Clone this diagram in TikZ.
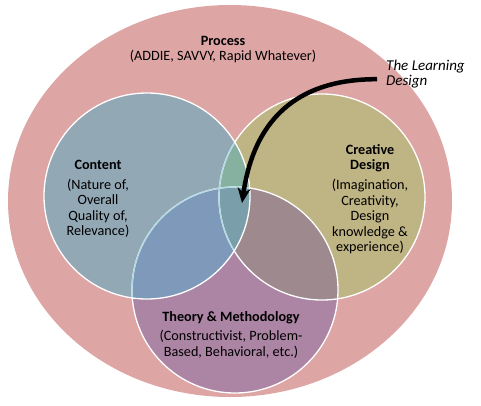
\documentclass[tikz,border=0pt]{standalone}
\usepackage{fontspec}
\setmainfont{Carlito}
\usetikzlibrary{arrows.meta,positioning}
\definecolor{procpink}{RGB}{222,165,165}
\definecolor{contfill}{RGB}{147,168,181}
\definecolor{creafill}{RGB}{191,180,132}
\definecolor{theofill}{RGB}{172,133,164}
\definecolor{ccmix}{RGB}{134,176,160}
\definecolor{ctmix}{RGB}{126,153,186}
\definecolor{rtmix}{RGB}{158,138,142}
\definecolor{allmix}{RGB}{122,159,170}
\definecolor{edgecyan}{RGB}{178,218,228}

\begin{document}
\begin{tikzpicture}[x=1pt, y=-1pt, >=Stealth,
  venn/.style={circle, minimum size=206pt, inner sep=0pt},
  rim/.style={draw=white, line width=1.3pt},
  head/.style={font=\bfseries\fontsize{14.2}{15.5}\selectfont, align=center, inner sep=0pt},
  body/.style={font=\fontsize{14.2}{15.5}\selectfont, align=center, inner sep=0pt},
  hand/.style={font=\itshape\fontsize{15}{15}\selectfont, align=left, inner ysep=0pt, inner xsep=9pt}]
\useasboundingbox (0,0) rectangle (481,405);
% process
\fill[procpink] (230,201) ellipse [x radius=222, y radius=196];
% the three circles
\node[venn, fill=creafill] (creative) at (322,197) {};
\node[venn, fill=theofill] (theory) at (235,290) {};
\node[venn, fill=contfill] (content) at (147,196) {};
% overlaps
\begin{scope}
  \clip (content.center) circle (103);
  \fill[ccmix] (creative.center) circle (103);
  \fill[ctmix] (theory.center) circle (103);
\end{scope}
\begin{scope}
  \clip (creative.center) circle (103);
  \fill[rtmix] (theory.center) circle (103);
  \clip (content.center) circle (103);
  \fill[allmix] (theory.center) circle (103);
\end{scope}
% rims
\draw[rim] (creative.center) circle (103);
\draw[rim] (theory.center) circle (103);
\begin{scope}
  \clip (content.center) circle (103);
  \draw[rim, draw=edgecyan] (creative.center) circle (103);
  \draw[rim, draw=edgecyan] (theory.center) circle (103);
\end{scope}
\draw[rim] (content.center) circle (103);
% labels
\node[head] (procT) at (223,41) {Process};
\node[body, below=4pt of procT] (procB) {(ADDIE, SAVVY, Rapid Whatever)};
\node[head] (contT) at (98,165) {Content};
\node[body, below=9pt of contT] (contB) {(Nature of,\\Overall\\Quality of,\\Relevance)};
\node[head] (creaT) at (370,158) {Creative\\Design};
\node[body, below=7pt of creaT] (creaB) {(Imagination,\\Creativity,\\Design\\knowledge \&\\experience)};
\node[head] (theoT) at (231,318) {Theory \& Methodology};
\node[body, below=6pt of theoT] (theoB) {(Constructivist, Problem-\\Based, Behavioral, etc.)};
% learning design pointer
\node[hand, anchor=north west] (ldesign) at (377,60) {The Learning\\Design};
\coordinate (core) at (242,203);
\draw[->, line width=4.5pt, >={Stealth[length=15pt, width=13pt]}]
  ([yshift=-5pt]ldesign.west) .. controls (305,79) and (255,112) .. (core);
\end{tikzpicture}
\end{document}
